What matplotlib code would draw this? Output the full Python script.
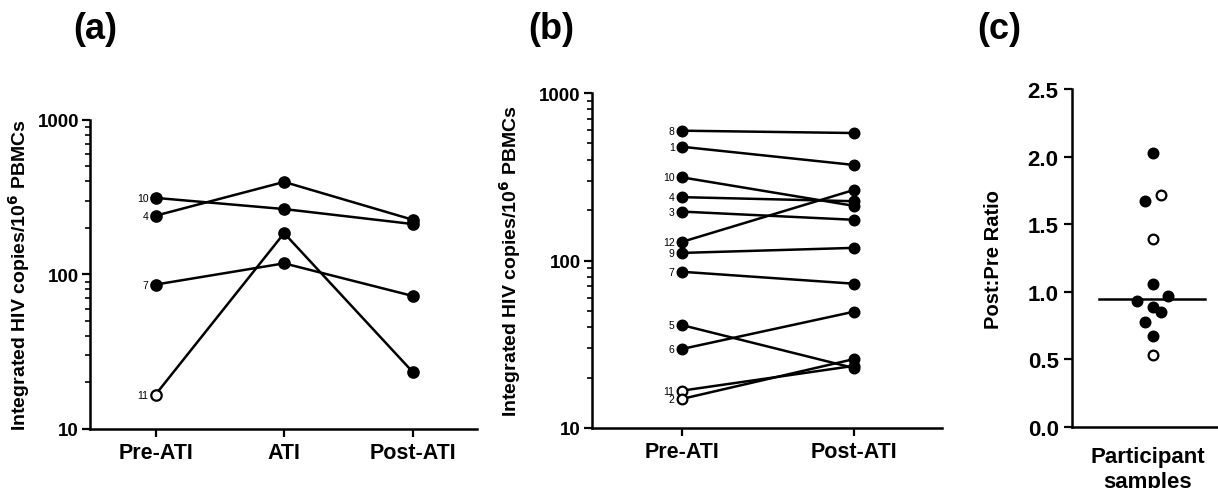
import numpy as np
import matplotlib
matplotlib.use("Agg")
import matplotlib.pyplot as plt
from matplotlib.ticker import LogLocator, NullFormatter, FixedLocator

plt.rcParams['font.family'] = ['Liberation Sans', 'DejaVu Sans']
plt.rcParams['font.weight'] = 'bold'
plt.rcParams['axes.labelweight'] = 'bold'

# panel (a): participants sampled at three time points
ids_a = ["10", "4", "7", "11"]
pre_a = [313, 240, 86, 16.7]
ati_a = [265, 397, 118, 185]
post_a = [212, 226, 72.6, 23.4]
open_pre_a = [False, False, False, True]
cats_a = ["Pre-ATI", "ATI", "Post-ATI"]

# panel (b): pre vs post
ids_b = ["8", "1", "10", "4", "3", "12", "9", "7", "5", "6", "11", "2"]
pre_b = [596, 478, 314, 239, 196, 129, 111, 85.7, 41.2, 29.6, 16.7, 14.9]
post_b = [577, 372, 212, 226, 175, 264, 119, 72.7, 22.8, 49.5, 23.5, 25.8]
open_pre_b = [False] * 10 + [True, True]
open_post_b = [False] * 8 + [True, False, False, False]
cats_b = ["Pre-ATI", "Post-ATI"]

# panel (c): post:pre ratio
ratio_c = [2.03, 1.72, 1.67, 1.39, 1.06, 0.97, 0.93, 0.89, 0.85, 0.78, 0.67, 0.53]
open_c = [False, True, False, True, False, False, False, False, False, False, False, True]
jitter_c = [0, 0.15, -0.16, 0, 0, 0.28, -0.31, 0, 0.15, -0.15, 0, 0]

fig = plt.figure(figsize=(12.18, 4.89), dpi=100)

ylab = "Integrated HIV copies/10$^\\mathbf{6}$ PBMCs"


def style_axis(ax):
    for s in ["top", "right"]:
        ax.spines[s].set_visible(False)
    for s in ["left", "bottom"]:
        ax.spines[s].set_linewidth(1.8)
    ax.tick_params(which="major", width=1.6, length=6)
    ax.tick_params(which="minor", width=1.2, length=3.5)


def marker(ax, x, y, is_open, ms):
    ax.plot(x, y, "o", ms=ms, mfc="white" if is_open else "black",
            mec="black", mew=1.6, zorder=3, clip_on=False)


def log_axis(ax):
    ax.set_yscale("log")
    ax.set_ylim(10, 1000)
    ax.yaxis.set_major_locator(FixedLocator([10, 100, 1000]))
    ax.set_yticklabels(["10", "100", "1000"])
    ax.yaxis.set_minor_locator(LogLocator(base=10, subs=np.arange(2, 10)))
    ax.yaxis.set_minor_formatter(NullFormatter())


# ---- (a)
ax1 = fig.add_axes([0.0739, 0.1207, 0.3177, 0.632])
xa = np.arange(len(cats_a))
for i in range(len(ids_a)):
    ys = [pre_a[i], ati_a[i], post_a[i]]
    ax1.plot(xa, ys, color="black", lw=1.8, zorder=2)
    marker(ax1, 0, pre_a[i], open_pre_a[i], 7.5)
    marker(ax1, 1, ati_a[i], False, 7.5)
    marker(ax1, 2, post_a[i], False, 7.5)
    ax1.annotate(ids_a[i], (0, pre_a[i]), xytext=(-5, 0), textcoords="offset points",
                 ha="right", va="center", fontsize=7.5, fontweight="normal")
log_axis(ax1)
ax1.set_xlim(-0.51, 2.5)
ax1.set_xticks(xa)
ax1.set_xticklabels(cats_a)
style_axis(ax1)
ax1.tick_params(axis="y", labelsize=13.5, pad=2)
ax1.tick_params(axis="x", labelsize=15.5)
ax1.set_ylabel(ylab, fontsize=14, labelpad=4)
fig.text(0.0599, 0.94, "(a)", fontsize=26, fontweight="bold", va="center")

# ---- (b)
ax2 = fig.add_axes([0.486, 0.1227, 0.2874, 0.685])
for i in range(len(ids_b)):
    ax2.plot([0, 1], [pre_b[i], post_b[i]], color="black", lw=1.8, zorder=2)
    marker(ax2, 0, pre_b[i], open_pre_b[i], 7)
    marker(ax2, 1, post_b[i], open_post_b[i], 7)
    ax2.annotate(ids_b[i], (0, pre_b[i]), xytext=(-5, 0), textcoords="offset points",
                 ha="right", va="center", fontsize=7.5, fontweight="normal")
log_axis(ax2)
ax2.set_xlim(-0.52, 1.51)
ax2.set_xticks([0, 1])
ax2.set_xticklabels(cats_b)
style_axis(ax2)
ax2.tick_params(axis="y", labelsize=13.5, pad=2)
ax2.tick_params(axis="x", labelsize=15.5)
ax2.set_ylabel(ylab, fontsize=14, labelpad=12)
fig.text(0.434, 0.94, "(b)", fontsize=26, fontweight="bold", va="center")

# ---- (c)
ax3 = fig.add_axes([0.880, 0.1247, 0.125, 0.691])
for r, o, j in zip(ratio_c, open_c, jitter_c):
    marker(ax3, j, r, o, 7)
med = np.median(ratio_c)
ax3.plot([-1.03, 1.0], [med, med], color="black", lw=1.8, zorder=2)
ax3.set_xlim(-1.56, 1.36)
ax3.set_ylim(0, 2.5)
ax3.set_yticks(np.arange(0, 2.51, 0.5))
ax3.set_yticklabels([f"{v:.1f}" for v in np.arange(0, 2.51, 0.5)])
ax3.set_xticks([])
style_axis(ax3)
ax3.tick_params(labelsize=16)
ax3.set_ylabel("Post:Pre Ratio", fontsize=14.5, labelpad=18)
ax3.set_xlabel("Participant\nsamples", fontsize=16, labelpad=14, linespacing=1.2)
fig.text(0.802, 0.94, "(c)", fontsize=26, fontweight="bold", va="center")

fig.savefig("out.png", dpi=100)
